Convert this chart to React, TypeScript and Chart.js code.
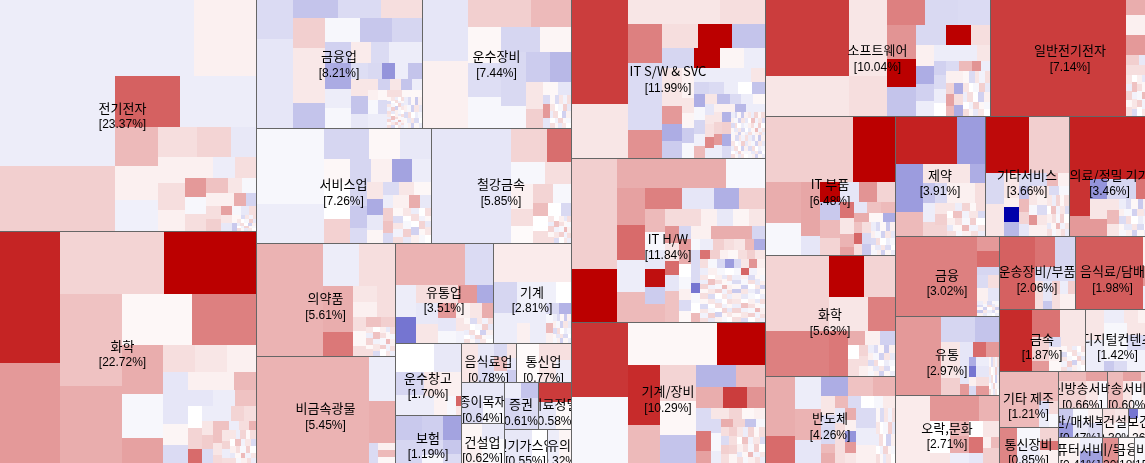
import React, { useEffect, useRef } from "react";
import { Chart, registerables } from "chart.js";

Chart.register(...registerables);

// A node is [weight, change] or [weight, children]; nesting alternates between side-by-side and stacked.
type N = [number, number | N[]];

const fineA: N[] = [[5,[[4,3],[4,-14],[3,10],[4,-5],[3,13]]],[4,[[4,10],[3,0],[4,-3],[4,19],[3,-9]]],[4,[[3,-7],[4,13],[3,0],[4,-18],[4,6]]],[3,[[4,0],[3,-5],[4,17],[3,3],[4,-3]]],[3,[[4,13],[3,3],[3,-9],[4,10],[4,0]]]];
const fineB: N[] = [[5,[[4,10],[3,-7],[4,17],[3,3],[4,13]]],[4,[[3,0],[4,24],[3,-5],[4,10],[3,-14]]],[4,[[4,6],[3,13],[4,-3],[3,19],[4,0]]],[3,[[3,-9],[4,3],[3,27],[4,-5],[3,10]]],[3,[[4,13],[3,-3],[4,6],[3,13],[3,-7]]]];
const fineC: N[] = [[5,[[4,-7],[3,-14],[4,3],[3,-21],[4,6]]],[4,[[3,6],[4,-3],[3,-18],[4,10],[3,-9]]],[4,[[4,-14],[3,13],[4,0],[3,-7],[4,-3]]],[3,[[3,3],[4,-9],[3,10],[4,-14],[3,0]]],[3,[[4,-3],[3,6],[3,-18],[4,3],[3,-7]]]];

const elecCells: N[] = [
 [378,[[534,-7],[195,19]]],
 [423,[[267,[[237,-7],[186,6]]],[150,[[195,62],[228,-7]]],[312,[
  [129,[[117,27],[102,6],[93,-6]]],
  [294,[[90,[[117,13],[102,17],[75,-9]]],[222,[
   [81,[[80,6],[79,13],[63,6]]],
   [213,[[63,[[84,6],[66,-7],[63,13]]],[159,[
    [63,[[57,40],[51,-3],[51,13]]],
    [150,[[45,[[66,24],[42,10],[42,-3]]],[39,[[84,6],[36,32],[30,-17]]],[75,[
     [45,[[39,13],[36,19]]],
     [105,[[27,[[33,37],[27,-3],[24,-9],[21,13]]],[48,[[33,[[24,10],[24,-9]]],[15,[[24,3],[24,-21]]],[57,fineA]]]]]
    ]]]]
   ]]]]
  ]]]]
 ]]]]
];

const chemCells: N[] = [
 [213,[[396,86],[300,40]]],
 [588,[[189,[[312,17],[276,100]]],[507,[
  [186,[[276,24],[231,32]]],
  [402,[[153,[[210,3],[192,50]]],[354,[
   [123,[[147,32],[132,-3],[75,37]]],
   [279,[[81,[[96,13],[96,10],[87,6]]],[273,[
    [75,[[156,-10],[63,4],[54,-14]]],
    [204,[[54,[[138,6],[66,28]]],[48,[[75,-10],[66,-7],[63,24]]],[45,[[42,0],[87,-7],[39,17],[36,13]]],[126,[
     [42,[[21,0],[63,17],[42,58]]],
     [33,[[42,10],[42,20],[42,-14]]],
     [129,[[27,[[48,24],[30,-7],[30,13],[21,30]]],[99,[[27,[[39,24],[36,10],[24,15]]],[24,[[33,10],[24,17],[27,-7],[15,13]]],[78,fineB]]]]]
    ]]]]
   ]]]]
  ]]]]
 ]]]]
];

const financeCells: N[] = [
 [111,[[156,-14],[264,-10]]],
 [384,[[93,[[135,-23],[126,-14],[123,13]]],[327,[
  [96,[[90,19],[162,9],[75,-23]]],
  [288,[[72,[[102,-3],[96,-22],[90,-16]]],[255,[
   [75,[[60,-18],[78,-33],[57,-7],[60,-3]]],
   [213,[[60,[[60,8],[54,-14],[99,-7]]],[48,[[51,-13],[42,-15],[39,-42],[39,-7],[42,-23]]],[147,[
    [51,[[51,10],[54,-23],[42,-9]]],
    [162,[[33,[[30,10],[36,-18],[33,10],[33,-23],[30,-7]]],[114,[
     [30,[[30,6],[42,-3],[42,-7]]],
     [27,[[30,3],[42,-14],[42,-7]]],
     [105,[[21,[[40,13],[50,3]]],[93,[[50,[[50,fineA],[43,fineB]]],[55,fineC]]]]]
    ]]]]
   ]]]]
  ]]]]
 ]]]]
];

const transportCells: N[] = [
 [138,[[219,-10],[201,6]]],
 [306,[[120,[[186,19],[120,27]]],[300,[
  [96,[[105,3],[102,-13],[93,-3]]],
  [210,[[75,[[117,-16],[93,4]]],[225,[
   [75,[[159,-15],[66,-3]]],
   [135,[[87,[[72,-20],[63,-28]]],[138,[
    [51,[[81,10],[57,19]]],
    [84,[[39,[[45,3],[39,-10]]],[99,[[21,[[27,-14],[42,40],[30,-10]]],[63,fineA]]]]]
   ]]]]
  ]]]]
 ]]]]
];

const serviceCells: N[] = [
 [204,[[225,-3],[117,-7]]],
 [318,[[93,[[132,-16],[93,3],[93,-9]]],[249,[
  [75,[[69,3],[108,0],[72,18]]],
  [243,[[69,[[63,-16],[63,6],[60,-36],[57,-7]]],[180,[
   [51,[[69,-16],[66,-21],[45,-14]]],
   [48,[[48,10],[48,-33],[45,-9],[39,4]]],
   [144,[[36,[[48,-14],[45,10],[51,3]]],[144,[
    [30,[[39,-7],[39,19],[36,24],[30,-15]]],
    [114,[[39,[[48,6],[33,32],[33,-9]]],[105,fineA]]]
   ]]]]
  ]]]]
 ]]]]
];

const steelCells: N[] = [
 [237,-10],
 [180,[[102,[[108,17],[72,57]]],[66,[[102,-3],[78,13]]],[174,[
  [66,[[72,6],[51,13],[51,2]]],
  [114,[[54,[[60,17],[54,-3]]],[120,[
   [45,[[39,26],[45,0],[36,13]]],
   [69,[[39,[[39,0],[30,-15]]],[81,fineB]]]
  ]]]]
 ]]]]
];

const pharmaCells: N[] = [
 [201,30],
 [213,[[129,[[105,-7],[108,13]]],[207,[
  [87,[[135,32],[72,53]]],
  [126,[[90,[[72,[[45,10],[45,6]]],[54,13]]],[117,[
   [39,[[42,13],[45,3],[30,13]]],
   [87,[[30,[[45,24],[42,19]]],[87,fineB]]]
  ]]]]
 ]]]]
];

const cementCells: N[] = [
 [336,30],
 [78,[[135,-7],[126,32],[60,[[27,-14],[51,[[21,6],[21,27],[18,3]]]]]]]
];

const retailCells: N[] = [
 [291,[[126,[[207,30],[84,-14]]],[171,[
  [63,[[93,-7],[78,-54]]],
  [228,[[51,[[123,13],[57,40],[48,-33]]],[120,[
   [66,[[63,-9],[57,10]]],
   [162,[[45,[[51,40],[42,6],[36,10],[33,32]]],[75,[[51,[[39,-10],[36,-3]]],[24,[[38,10],[37,-5]]],[87,fineA]]]]]
  ]]]]
 ]]]]
];

const machineCells: N[] = [
 [231,[[117,8],[180,[
  [72,[[90,-16],[90,-7]]],
  [159,[[60,[[114,-6],[45,0]]],[120,[
   [84,[[60,-7],[60,[[39,6],[45,-7]]]]],
   [75,[[33,[[39,-15],[36,-30]]],[87,[[21,[[29,-3],[29,27],[29,6]]],[54,fineC]]]]]
  ]]]]
 ]]]]
];

const warehouseCells: N[] = [
 [195,[[87,[[114,0],[81,-9]]],[126,[
  [87,[[66,-16],[60,-7]]],
  [108,[[69,[[45,10],[63,6]]],[57,[[27,-7],[39,5],[27,-3],[15,[[30,60],[27,10]]]]]]]
 ]]]]
];

const insuranceCells: N[] = [
 [195,[[75,[[81,-21],[60,-19],[54,-36]]],[69,[[81,-16],[60,[[45,-14],[24,-3]]],[54,[[42,-22],[27,-14]]]]]]]
];

const foodCells: N[] = [
 [51,10],
 [45,[[51,-9],[63,-14]]],
 [39,[[41,-15],[40,24],[33,-7]]],
 [27,[[45,10],[35,-10],[34,-20]]]
];
const telecomCells: N[] = [[69,2],[93,[[51,12],[63,[[48,10],[45,-7]]]]]];
const paperCells: N[] = [[123,[[54,-9],[69,[[62,-14],[61,-3]]]]]];
const constructionCells: N[] = [[60,[[68,4],[49,6]]],[63,[[48,-9],[69,-2]]]];
const securitiesCells: N[] = [[102,[[48,[[51,-7],[51,-23]]],[93,[[46,-16],[56,-14]]]]]];
const medPrecisionCells: N[] = [[96,[[60,77],[81,[[51,-10],[45,3]]]]]];
const utilityCells: N[] = [[81,-9],[45,0]];
const textileCells: N[] = [[37,-7],[35,4]];

const itSwCells: N[] = [
 [171,[[351,76],[162,10]]],
 [408,[[111,[[273,10],[135,13]]],[402,[
  [102,[[117,50],[201,-14],[84,43]]],
  [306,[[72,[[105,13],[102,100],[99,-23]]],[60,[[93,-16],[78,100],[72,4],[63,-7]]],[270,[
   [57,[[114,10],[54,40],[51,-32],[51,-20]]],
   [36,[[90,5],[45,10],[45,4],[45,-20],[45,-3]]],
   [213,[[42,[[171,-7],[42,10]]],[36,[[45,-16],[45,-14],[42,-7],[42,0],[39,-23]]],[192,[
    [33,[[39,-32],[39,-3],[42,-16],[36,-6],[36,27]]],
    [180,[[30,[[36,10],[39,-25],[33,-14],[36,-7],[36,3]]],[162,[
     [27,[[33,-10],[27,10],[39,12],[33,47],[30,-7]]],
     [153,[[24,[[63,6],[33,-28],[57,-7]]],[138,[
      [24,[[30,10],[36,17],[33,40],[39,-7]]],
      [27,[[30,-30],[36,19],[36,-32],[36,-14]]],
      [102,[[70,[[50,fineC],[52,fineB]]],[68,[[52,fineA],[50,fineC]]]]]
     ]]]]
    ]]]]
   ]]]]
  ]]]]
 ]]]]
];

const itHwCells: N[] = [
 [138,[[333,19],[159,100]]],
 [444,[[90,[[327,32],[117,-3]]],[402,[
  [84,[[111,37],[105,58],[96,-7],[90,27]]],
  [360,[[63,[[111,50],[96,-10],[75,-31],[78,19]]],[339,[
   [60,[[69,27],[54,-3],[57,-9],[54,94],[51,-20],[54,27]]],
   [300,[[51,[[108,14],[48,6],[48,-9],[48,4],[48,10]]],[288,[
    [42,[[51,42],[54,10],[42,58],[48,-10],[48,24],[45,24]]],
    [36,[[39,-16],[33,40],[42,32],[39,0],[36,-3],[33,6],[33,-14],[33,3]]],
    [222,[[39,[[60,6],[123,32],[39,-16]]],[249,[
     [27,[[33,-3],[99,-14],[30,-54],[30,-3],[30,0],[27,27]]],
     [195,[
      [33,[[39,-7],[33,19],[30,13],[33,10],[27,27],[33,-32]]],
      [27,[[30,55],[30,19],[24,6],[30,3],[27,13],[24,19],[30,10]]],
      [27,[[24,13],[27,-3],[24,-15],[27,-39],[21,-15],[24,10],[24,42],[24,6]]],
      [21,[[24,-7],[27,6],[24,-3],[27,0],[21,-3],[24,60],[24,-5],[24,3]]],
      [141,[[70,[[98,fineB],[97,fineA]]],[71,[[98,fineC],[97,fineB]]]]]
     ]]
    ]]]]
   ]]]]
  ]]]]
 ]]]]
];

const machEquipCells: N[] = [
 [171,[[222,79],[195,-3]]],
 [408,[[126,[[264,3],[144,100]]],[291,[
  [96,[[180,83],[111,27]]],
  [105,[[108,17],[99,3],[84,-23]]],
  [207,[[66,[[120,-29],[87,27]]],[63,[[81,32],[72,76],[54,42]]],[162,[
   [45,[[66,-14],[60,53],[36,37]]],
   [162,[[33,[[54,10],[39,17],[36,3],[33,6]]],[129,[
    [30,[[39,-14],[54,-3],[36,-7]]],
    [132,[[24,[[36,32],[36,17],[33,-23],[27,-3]]],[105,[[24,[[26,13],[26,-14],[26,19],[27,13]]],[24,[[26,19],[26,13],[26,17],[27,4]]],[84,fineB]]]]]
   ]]]]
  ]]]]
 ]]]]
];

const softwareCells: N[] = [
 [252,[[264,76],[120,10]]],
 [111,[[264,10],[120,13]]],
 [309,[[114,[[114,50],[99,-15],[96,-14]]],[270,[
  [87,[[99,42],[84,100],[87,-23]]],
  [222,[[60,[[90,-15],[75,100],[57,13]]],[210,[
   [54,[[60,6],[54,-32],[51,-18],[45,-7]]],
   [168,[[45,[[129,-7],[39,10]]],[165,[
    [36,[[42,-18],[42,-14],[42,-7],[39,0]]],
    [132,[[30,[[39,-14],[39,27],[27,42],[27,-7]]],[135,[
     [24,[[36,6],[33,17],[36,37],[30,27]]],
     [27,[[36,6],[33,-32],[33,13],[33,-32]]],
     [81,fineA]
    ]]]]
   ]]]]
  ]]]]
 ]]]]
];

const electricCells: N[] = [
 [408,76],
 [72,[[84,32],[60,6],[57,40],[30,[[39,19],[33,-9]]],[30,13],[123,fineB]]]
];

const itPartsCells: N[] = [
 [387,[[198,[[261,19],[126,100]]],[216,[
  [108,[[120,32],[96,-3]]],
  [57,[[159,35],[57,-10]]],
  [222,[[57,[[57,100],[57,-10],[54,42],[54,17]]],[159,[
   [57,[[54,-21],[54,27],[51,17]]],
   [42,[[48,55],[48,10],[39,30],[24,37]]],
   [123,[[33,[[39,-10],[42,24],[42,27]]],[27,[[45,32],[42,3],[36,-32]]],[99,[
    [24,[[33,24],[33,60],[33,13]]],
    [27,[[33,13],[33,-15],[33,-21]]],
    [72,fineC]
   ]]]]
  ]]]]
 ]]]]
];

const pharmaKCells: N[] = [
 [267,[[144,[[183,87],[84,-39]]],[213,[
  [84,[[141,-39],[72,27]]],
  [183,[[54,[[138,10],[45,-32]]],[159,[
   [36,[[60,-23],[57,-7],[42,17]]],
   [147,[[60,[[33,-15],[48,6],[36,6],[30,13]]],[99,[[33,[[33,10],[33,19],[33,17]]],[114,fineB]]]]]
  ]]]]
 ]]]]
];

const otherSvcCells: N[] = [
 [252,[[171,[[132,96],[120,19]]],[186,[
  [57,[[90,-15],[96,10]]],
  [45,[[72,10],[27,6],[45,-100],[42,-28]]],
  [150,[[36,[[84,-14],[33,27],[33,6]]],[150,[
   [30,[[39,-23],[39,27],[36,17],[36,-10]]],
   [120,[[27,[[60,10],[30,-14],[30,-3]]],[123,[[24,[[30,10],[30,-3],[30,42],[33,6]]],[30,[[30,6],[30,-14],[30,10],[33,6]]],[66,fineB]]]]]
  ]]]]
 ]]]]
];

const medicalCells: N[] = [
 [240,[[186,87],[171,[
  [63,[[111,80],[60,40]]],
  [177,[[60,[[51,-42],[84,-16],[42,55]]],[111,[
   [51,[[60,10],[51,40]]],
   [33,[[33,10],[42,27],[36,10]]],
   [93,fineC]
  ]]]]
 ]]]]
];

const chemKCells: N[] = [
 [387,[[225,[[192,17],[195,[[126,[[102,100],[93,17]]],[99,[[114,10],[81,50]]]]]]],[135,[[192,50],[54,53],[141,[
  [42,[[51,32],[45,6],[45,-18]]],
  [93,[[33,[[42,0],[51,13]]],[27,[[33,17],[30,13],[30,6]]],[81,fineC]]]
 ]]]]]]
];

const semiCells: N[] = [
 [90,[[180,32],[81,58]]],
 [78,[[99,-7],[93,30],[69,-10]]],
 [219,[[60,[[78,-32],[75,24],[66,30]]],[201,[
  [39,[[57,10],[36,-14],[51,-15],[27,27],[30,32]]],
  [180,[[36,[[39,27],[39,-14],[39,0],[27,-3],[36,8]]],[165,[
   [30,[[45,-10],[40,13],[40,13],[40,13]]],
   [33,[[36,32],[33,6],[33,-42],[33,40],[30,10]]],
   [60,[[60,-14],[50,-7],[55,6]]],
   [57,fineA]
  ]]]]
 ]]]]
];

const financeKCells: N[] = [
 [243,50],
 [66,[[33,40],[36,58],[18,-16],[30,[[33,-14],[33,13]]],[30,[[33,6],[33,-10]]],[33,fineC]]]
];

const retailKCells: N[] = [
 [138,40],
 [171,[[78,[[99,-16],[72,-23]]],[156,[
  [54,[[105,10],[51,19]]],
  [27,[[123,-10],[33,40]]],
  [90,[[42,[[12,-10],[39,58],[39,40]]],[114,[
   [21,[[27,-32],[33,-54],[27,6],[27,-15]]],
   [39,[[27,-7],[33,-10],[27,13],[27,40]]],
   [30,fineA]
  ]]]]
 ]]]]
];

const leisureCells: N[] = [
 [105,8],
 [204,[[78,[[144,41],[60,30]]],[126,[
  [58,[[96,0],[30,10]]],
  [56,[[45,27],[51,32],[30,-7]]],
  [42,[[48,0],[48,55],[30,-10]]],
  [48,[[48,10],[33,[[24,6],[24,27]]],[45,19]]]
 ]]]]
];

const autoCells: N[] = [
 [108,62],
 [120,[[93,[[60,55],[60,-16]]],[42,-14],[84,[[24,13],[27,[[60,-10],[24,-22]]],[24,[[40,19],[44,13]]],[24,[[40,-7],[44,6]]],[21,[[40,19],[44,6]]]]]]]
];
const beverageCells: N[] = [[201,64],[21,[[90,6],[60,40],[69,-7]]]];

const metalCells: N[] = [
 [105,83],
 [165,[[81,[[87,55],[78,10]]],[99,[
  [51,[[69,17],[30,40]]],
  [39,[[30,-14],[39,6],[30,3]]],
  [75,[[27,10],[72,fineA]]]
 ]]]]
];

const digitalCells: N[] = [
 [57,[[90,10],[90,-7]]],
 [138,[[42,[[60,-7],[42,10],[36,5]]],[138,[
  [30,[[108,-3],[30,-21]]],
  [39,[[108,-3],[30,-14]]],
  [69,[[33,10],[45,-14],[60,-5]]]
 ]]]]
];

const otherMfgCells: N[] = [[175,[[87,27],[78,[[120,27],[28,[[39,-14],[39,-7]]],[27,[[39,15],[39,-3]]]]]]]];
const commEquipCells: N[] = [[54,48],[69,[[54,-3],[54,-7]]],[52,[[42,17],[27,55],[39,6]]]];
const cableCells: N[] = [[145,[[30,[[82,27],[63,37]]],[81,[[82,17],[35,10],[28,-3]]]]]];
const broadcastCells: N[] = [[54,27],[60,[[30,37],[81,[[30,10],[30,-3]]]]],[31,[[50,17],[61,6]]]];
const mediaCells: N[] = [[45,[[30,-21],[30,-40]]],[45,[[40,-3],[47,-9]]],[42,[[44,6],[43,-14]]]];
const buildKCells: N[] = [[40,[[44,13],[43,6]]],[40,[[44,10],[43,-3]]]];
const healthCells: N[] = [[30,[[30,-54],[57,3]]],[35,[[44,-3],[43,6]]]];
const computerCells: N[] = [[66,[[40,3],[37,6]]],[66,[[40,-7],[37,-37]]]];
const woodCells: N[] = [[50,44]];
const metalKCells: N[] = [[50,3]];
const miscCells: N[] = [[45,-3]];

const sectorNames = [
 "전기전자","화학","금융업","운수장비","서비스업","철강금속","의약품","비금속광물","유통업","기계",
 "운수창고","보험","음식료업","통신업","종이목재","건설업","증권","의료정밀","전기가스업","섬유의복",
 "IT S/W & SVC","IT H/W","기계/장비","소프트웨어","일반전기전자","IT 부품","화학","반도체","제약","기타서비스",
 "의료/정밀 기기","금융","유통","오락,문화","운송장비/부품","음식료/담배","금속","디지털컨텐츠","기타 제조","통신장비",
 "통신방송서비스","방송서비스","출판/매체복제","건설","보건","컴퓨터서비스","종이/목재","금융","서비스",
];
const sectorShares = [
 23.37,22.72,8.21,7.44,7.26,5.85,5.61,5.45,3.51,2.81,
 1.70,1.19,0.78,0.77,0.64,0.62,0.61,0.58,0.55,0.32,
 11.99,11.84,10.29,10.04,7.14,6.48,5.63,4.26,3.91,3.66,
 3.46,3.02,2.97,2.71,2.06,1.98,1.87,1.42,1.21,0.85,
 0.66,0.60,0.47,0.30,0.26,0.41,0.20,0.18,0.15,
];
const sectorCells: N[][] = [
 elecCells,chemCells,financeCells,transportCells,serviceCells,steelCells,pharmaCells,cementCells,retailCells,machineCells,
 warehouseCells,insuranceCells,foodCells,telecomCells,paperCells,constructionCells,securitiesCells,medPrecisionCells,utilityCells,textileCells,
 itSwCells,itHwCells,machEquipCells,softwareCells,electricCells,itPartsCells,chemKCells,semiCells,pharmaKCells,otherSvcCells,
 medicalCells,financeKCells,retailKCells,leisureCells,autoCells,beverageCells,metalCells,digitalCells,otherMfgCells,commEquipCells,
 cableCells,broadcastCells,mediaCells,buildKCells,healthCells,computerCells,woodCells,metalKCells,miscCells,
];

const kospiTree: N[] = [
 [267,[[244,0],[232,1]]],
 [315,[
  [141,[[166,2],[149,3]]],
  [115,[[175,4],[140,5]]],
  [220,[
   [139,[[113,6],[107,7]]],
   [176,[
    [100,[[98,8],[78,9]]],
    [120,[
     [66,[[72,10],[48,11]]],
     [110,[
      [39,[[55,12],[55,13]]],
      [81,[
       [43,[[41,14],[40,15]]],
       [67,[[47,[[34,16],[33,17]]],[34,[[43,18],[24,19]]]]],
      ]],
     ]],
    ]],
   ]],
  ]],
 ]],
];
const kosdaqTree: N[] = [
 [194,[[171,20],[164,21],[141,22]]],
 [385,[
  [129,[[225,23],[160,24]]],
  [347,[
   [130,[[139,25],[121,26],[87,27]]],
   [255,[
    [120,[[90,28],[84,29],[81,30]]],
    [227,[
     [104,[[80,31],[79,32],[68,33]]],
     [151,[
      [73,[[76,34],[75,35]]],
      [62,[[86,36],[65,37]]],
      [92,[
       [59,[[56,38],[36,39]]],
       [92,[
        [37,[[49,40],[43,41]]],
        [29,[[44,42],[26,43],[22,44]]],
        [26,[[44,45],[16,46],[16,47],[16,48]]],
       ]],
      ]],
     ]],
    ]],
   ]],
  ]],
 ]],
];
const marketTree: N[] = [[582,[[476,kospiTree]]],[579,[[476,kosdaqTree]]]];

const DOMAIN_W = 1161;
const DOMAIN_H = 476;

type Box = { x: number; y: number; x1: number; y1: number; v: number };

function tile(nodes: N[], x: number, y: number, x1: number, y1: number, across: boolean, out: Box[]) {
  const total = nodes.reduce((s, n) => s + n[0], 0);
  let at = across ? x : y;
  const span = across ? x1 - x : y1 - y;
  for (const [w, v] of nodes) {
    const end = at + (w / total) * span;
    const bx = across ? at : x, by = across ? y : at, bx1 = across ? end : x1, by1 = across ? y1 : end;
    if (Array.isArray(v)) tile(v, bx, by, bx1, by1, !across, out);
    else out.push({ x: bx, y: by, x1: bx1, y1: by1, v });
    at = end;
  }
}

const sectors: Box[] = [];
tile(marketTree, 0, 0, DOMAIN_W, DOMAIN_H, true, sectors);
const cells: Box[] = [];
for (const s of sectors) tile(sectorCells[s.v], s.x, s.y, s.x1, s.y1, true, cells);

function shade(c: number) {
  const t = Math.min(1, Math.abs(c) / 100);
  const fade = Math.round(255 * (1 - t));
  return c >= 0
    ? `rgb(${Math.round(255 - 68 * t)},${fade},${fade})`
    : `rgb(${fade},${fade},${Math.round(255 - 85 * t)})`;
}

const treemapPlugin = {
  id: "treemap",
  afterDatasetsDraw(chart: any) {
    const { ctx, scales } = chart;
    const px = (v: number) => Math.round(scales.x.getPixelForValue(v));
    const py = (v: number) => Math.round(scales.y.getPixelForValue(v));
    const [cellSet, sectorSet] = chart.data.datasets;
    ctx.save();
    for (const c of cellSet.data as Box[]) {
      ctx.fillStyle = shade(c.v);
      ctx.fillRect(px(c.x), py(c.y), px(c.x1) - px(c.x), py(c.y1) - py(c.y));
    }
    ctx.strokeStyle = "#666666";
    ctx.lineWidth = 1;
    for (const s of sectorSet.data as Box[]) {
      ctx.strokeRect(px(s.x) + 0.5, py(s.y) + 0.5, px(s.x1) - px(s.x), py(s.y1) - py(s.y));
    }
    ctx.textAlign = "center";
    ctx.textBaseline = "middle";
    ctx.fillStyle = "#000000";
    for (const s of sectorSet.data as Box[]) {
      const x0 = px(s.x), y0 = py(s.y), x1 = px(s.x1), y1 = py(s.y1);
      const cx = scales.x.getPixelForValue((s.x + s.x1) / 2);
      const cy = scales.y.getPixelForValue((s.y + s.y1) / 2);
      ctx.save();
      ctx.beginPath();
      ctx.rect(x0 + 1, y0 + 1, x1 - x0 - 1, y1 - y0 - 1);
      ctx.clip();
      ctx.font = '13px "Noto Sans CJK KR"';
      ctx.fillText(sectorNames[s.v], cx, cy - 1);
      ctx.font = '12px "Liberation Sans"';
      ctx.fillText(`[${sectorShares[s.v].toFixed(2)}%]`, cx, cy + 16);
      ctx.restore();
    }
    ctx.restore();
  },
};

export default function App() {
  const ref = useRef<HTMLCanvasElement>(null);
  useEffect(() => {
    document.body.style.margin = "0";
    document.body.style.overflow = "hidden";
    const chart = new Chart(ref.current!, {
      type: "scatter",
      data: {
        datasets: [
          { data: cells as any, pointRadius: 0, showLine: false },
          { data: sectors as any, pointRadius: 0, showLine: false },
        ],
      },
      options: {
        animation: false,
        responsive: false,
        devicePixelRatio: 1,
        layout: { padding: 0 },
        plugins: { legend: { display: false }, tooltip: { enabled: false } },
        scales: {
          x: { type: "linear", display: false, min: 11, max: 1156 },
          y: { type: "linear", display: false, min: 13, max: 476, reverse: true },
        },
      },
      plugins: [treemapPlugin],
    } as any);
    return () => chart.destroy();
  }, []);
  return <canvas ref={ref} width={1145} height={463} style={{ display: "block" }} />;
}
